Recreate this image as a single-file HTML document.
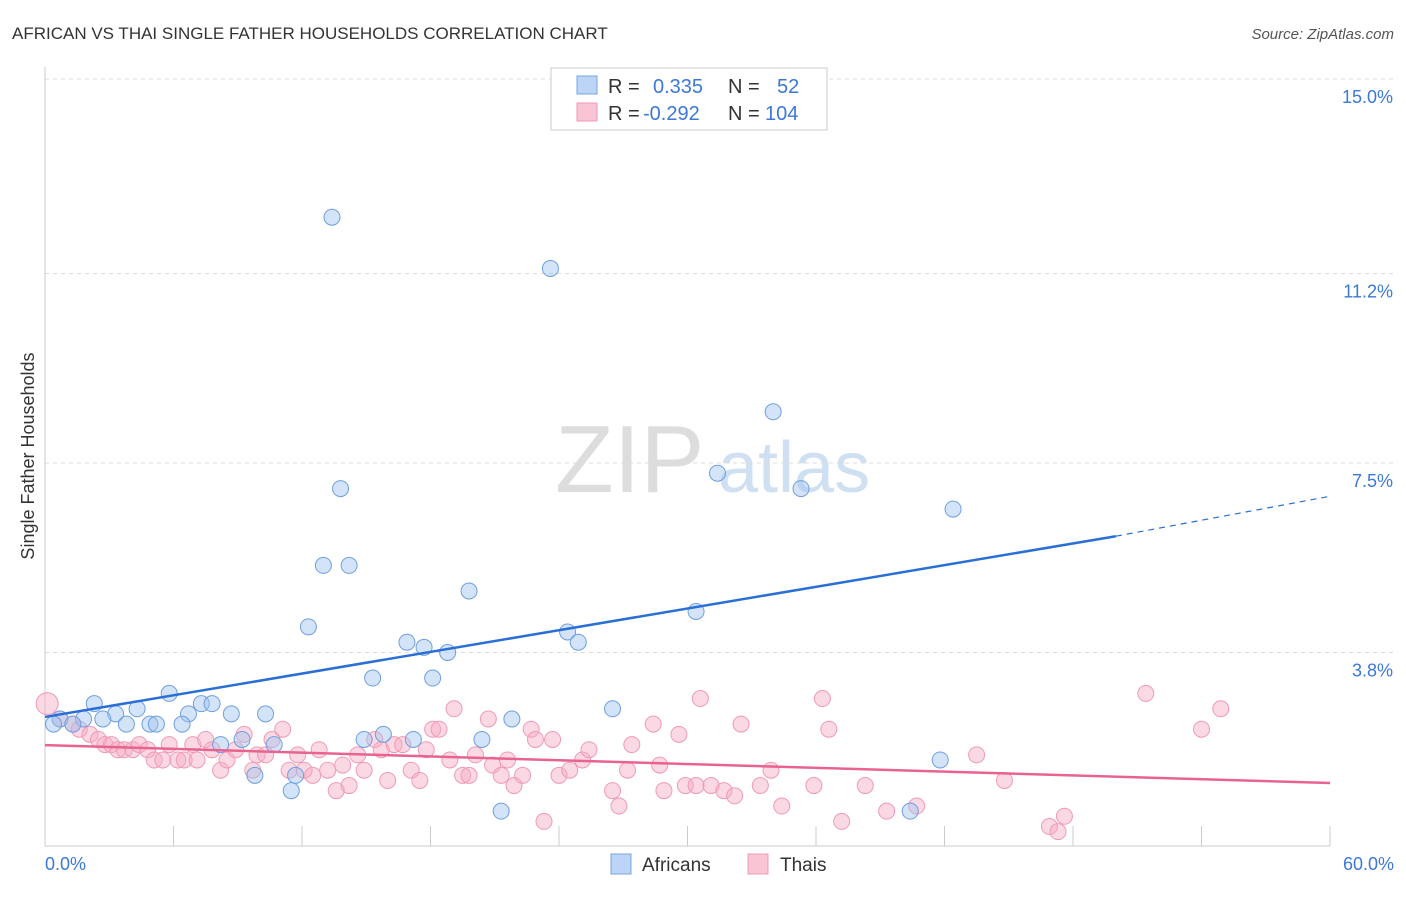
<!DOCTYPE html>
<html><head><meta charset="utf-8"><style>
body{margin:0;background:#fff;font-family:"Liberation Sans",sans-serif;}
svg text{font-family:"Liberation Sans",sans-serif;}
</style></head><body>
<svg width="1406" height="892">
<text x="12" y="39" font-size="17" fill="#333">AFRICAN VS THAI SINGLE FATHER HOUSEHOLDS CORRELATION CHART</text>
<text x="1394" y="39" font-size="15" fill="#555" font-style="italic" text-anchor="end">Source: ZipAtlas.com</text>
<text x="555" y="492" font-size="96" fill="#ddd" font-family="Liberation Serif">ZIP</text>
<text x="718" y="492" font-size="72" fill="#cfe0f3">atlas</text>
<g id="grid"></g>
<line x1="45" y1="67" x2="45" y2="846" stroke="#ccc"/>
<line x1="45" y1="846" x2="1330" y2="846" stroke="#ccc"/>
<g id="ticks"></g>
<text x="34" y="456" font-size="18" fill="#333" transform="rotate(-90 34 456)" text-anchor="middle">Single Father Households</text>
<text x="45" y="870" font-size="18" fill="#3b78d8">0.0%</text>
<text x="1394" y="870" font-size="18" fill="#3b78d8" text-anchor="end">60.0%</text>
<g id="pts"></g>
<g id="lines"></g>
<g>
<rect x="551" y="68" width="276" height="62" fill="#fff" stroke="#ccc"/>
<rect x="577" y="76" width="20" height="18" fill="#bcd4f5" stroke="#7aa6e6"/>
<rect x="577" y="103" width="20" height="18" fill="#f9c4d3" stroke="#f09ab5"/>
<text x="608" y="93" font-size="20" fill="#333">R =</text><text x="653" y="93" font-size="20" fill="#3b78d8">0.335</text>
<text x="728" y="93" font-size="20" fill="#333">N =</text><text x="777" y="93" font-size="20" fill="#3b78d8">52</text>
<text x="608" y="120" font-size="20" fill="#333">R =</text><text x="643" y="120" font-size="20" fill="#3b78d8">-0.292</text>
<text x="728" y="120" font-size="20" fill="#333">N =</text><text x="765" y="120" font-size="20" fill="#3b78d8">104</text>
</g>
<g>
<rect x="611" y="854" width="20" height="20" fill="#bcd4f5" stroke="#7aa6e6"/>
<text x="642" y="871" font-size="19" fill="#333">Africans</text>
<rect x="748" y="854" width="20" height="20" fill="#f9c4d3" stroke="#f09ab5"/>
<text x="780" y="871" font-size="19" fill="#333">Thais</text>
</g>
</svg>
<script>
const yTicks=[3.8,7.5,11.2,15.0];
const yTickLabels=["3.8%","7.5%","11.2%","15.0%"];
const xTicks=[0,6,12,18,24,30,36,42,48,54,60];
const africanX=[13.4,23.6,34.0,31.4,35.3,13.8,42.4,13.0,14.2,19.8,30.4,12.3,24.4,24.9,16.9,17.7,18.8,15.3,18.1,5.8,7.3,7.8,2.3,4.3,26.5,8.7,10.3,6.7,3.3,1.8,2.7,21.8,0.7,1.3,0.4,3.8,4.9,5.2,6.4,15.8,17.2,14.9,20.4,8.2,9.2,10.7,9.8,11.5,11.7,21.3,40.4,41.8];
const africanY=[12.3,11.3,8.5,7.3,7.0,7.0,6.6,5.5,5.5,5.0,4.6,4.3,4.2,4.0,4.0,3.9,3.8,3.3,3.3,3.0,2.8,2.8,2.8,2.7,2.7,2.6,2.6,2.6,2.6,2.5,2.5,2.5,2.5,2.4,2.4,2.4,2.4,2.4,2.4,2.2,2.1,2.1,2.1,2.0,2.1,2.0,1.4,1.1,1.4,0.7,0.7,1.7];
const thaiX=[0.1,0.7,1.3,1.6,2.1,2.5,2.8,3.1,3.4,3.7,4.1,4.4,4.8,5.1,5.5,5.8,6.2,6.5,6.9,7.1,7.5,7.8,8.2,8.5,8.9,9.3,9.7,9.9,10.3,10.6,11.1,11.4,11.8,12.1,12.5,12.8,13.2,13.6,13.9,14.2,14.6,14.9,15.4,15.7,16.0,16.3,16.7,17.1,17.5,17.8,18.1,18.4,18.9,19.1,19.5,19.8,20.1,20.7,20.9,21.3,21.6,21.9,22.3,22.7,22.9,23.3,23.7,24.0,24.5,25.1,25.4,26.5,26.8,27.2,27.4,28.4,28.7,28.9,29.6,29.9,30.4,30.6,31.1,31.7,32.2,32.5,33.4,33.9,34.4,35.9,36.3,36.6,37.2,38.3,39.3,40.7,43.5,44.8,46.9,47.3,47.6,51.4,54.0,54.9];
const thaiY=[2.8,2.5,2.4,2.3,2.2,2.1,2.0,2.0,1.9,1.9,1.9,2.0,1.9,1.7,1.7,2.0,1.7,1.7,2.0,1.7,2.1,1.9,1.5,1.7,1.9,2.2,1.5,1.8,1.8,2.1,2.3,1.5,1.8,1.5,1.4,1.9,1.5,1.1,1.6,1.2,1.8,1.5,2.1,1.9,1.3,2.0,2.0,1.5,1.3,1.9,2.3,2.3,1.7,2.7,1.4,1.4,1.8,2.5,1.6,1.4,1.7,1.2,1.4,2.3,2.1,0.5,2.1,1.4,1.5,1.7,1.9,1.1,0.8,1.5,2.0,2.4,1.6,1.1,2.2,1.2,1.2,2.9,1.2,1.1,1.0,2.4,1.2,1.5,0.8,1.2,2.9,2.3,0.5,1.2,0.7,0.8,1.8,1.3,0.4,0.3,0.6,3.0,2.3,2.7];
const africanTrend=[[0,2.54],[50,6.07],[60,6.85]];
const thaiTrend=[[0,1.99],[60,1.25]];
const NS="http://www.w3.org/2000/svg";
const xs=v=>45+v/60*1285, ys=v=>847-v*51.2;
function mk(t,a,p){const e=document.createElementNS(NS,t);for(const k in a)e.setAttribute(k,a[k]);p.appendChild(e);return e;}
const grid=document.getElementById('grid'),ticks=document.getElementById('ticks'),pts=document.getElementById('pts'),lines=document.getElementById('lines');
yTicks.forEach((v,i)=>{
 const l=mk('line',{x1:45,x2:1394,y1:ys(v),y2:ys(v),stroke:'#ddd','stroke-dasharray':'4,4'},grid);
 
 
 const t=mk('text',{x:1393,y:ys(v)+24,'font-size':18,fill:'#3b78d8','text-anchor':'end'},grid);
 t.textContent=yTickLabels[i];
 
 
});
xTicks.forEach(v=>{
 const l=mk('line',{x1:xs(v),x2:xs(v),y1:826,y2:846,stroke:'#ccc'},ticks);
 
 
});
thaiX.forEach((x,i)=>{
 const c=mk('circle',{cx:xs(x),cy:ys(thaiY[i]),r:i==0?11:8,fill:'rgba(246,170,195,0.45)',stroke:'#f09ab5','stroke-width':1},pts);
 
 
});
africanX.forEach((x,i)=>{
 const c=mk('circle',{cx:xs(x),cy:ys(africanY[i]),r:8,fill:'rgba(160,195,240,0.45)',stroke:'#6f9fe0','stroke-width':1},pts);
 
 
});
const a1=mk('line',{x1:xs(africanTrend[0][0]),y1:ys(africanTrend[0][1]),x2:xs(africanTrend[1][0]),y2:ys(africanTrend[1][1]),stroke:'#2a6fd6','stroke-width':2.5},lines);


const a2=mk('line',{x1:xs(africanTrend[1][0]),y1:ys(africanTrend[1][1]),x2:xs(africanTrend[2][0]),y2:ys(africanTrend[2][1]),stroke:'#2a6fd6','stroke-width':1.2,'stroke-dasharray':'6,5'},lines);


const t1=mk('line',{x1:xs(thaiTrend[0][0]),y1:ys(thaiTrend[0][1]),x2:xs(thaiTrend[1][0]),y2:ys(thaiTrend[1][1]),stroke:'#e8648f','stroke-width':2.5},lines);


</script>
</body></html>
